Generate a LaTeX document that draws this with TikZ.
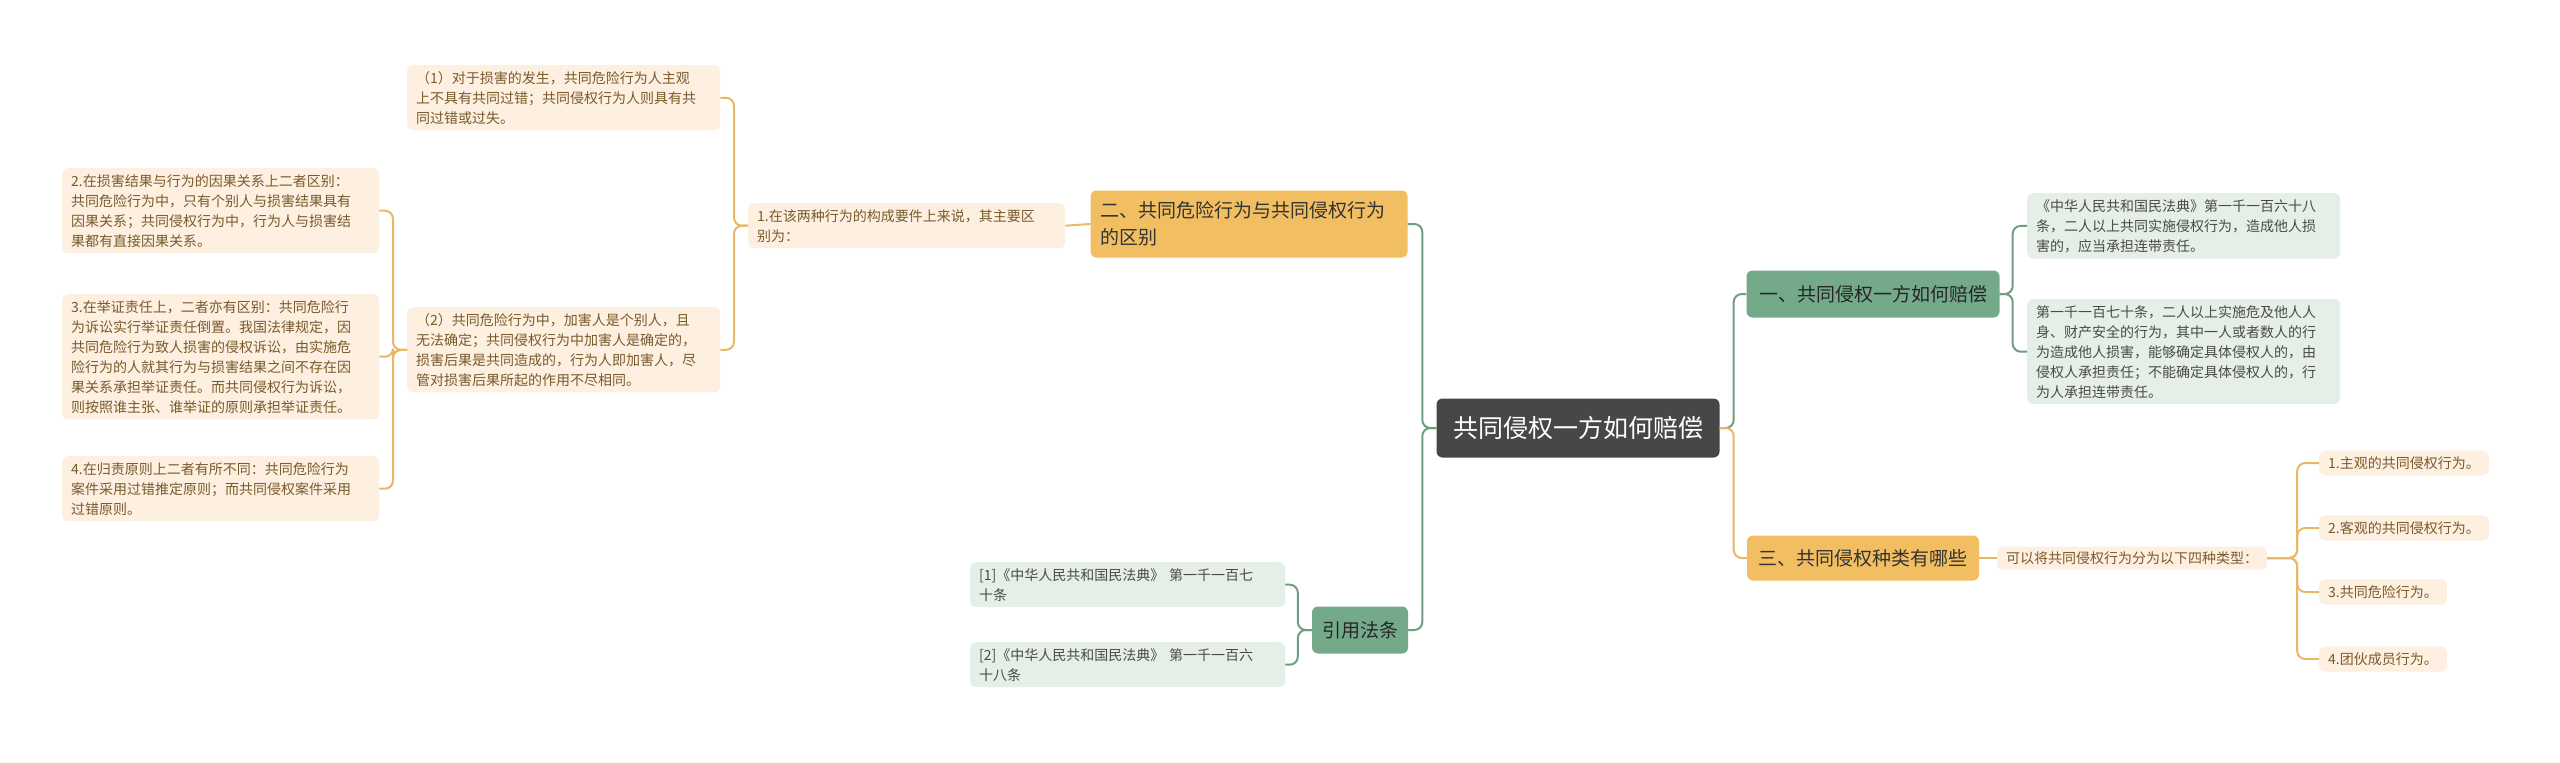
\documentclass[tikz,border=0pt]{standalone}
\usepackage{fontspec}
\setmainfont{Noto Sans CJK SC}
\definecolor{oline}{HTML}{E9B866}
\definecolor{gline}{HTML}{6F9E80}
\definecolor{ofill}{HTML}{FDF0E1}
\definecolor{gfill}{HTML}{E5EFE8}
\definecolor{obr}{HTML}{F2BE62}
\definecolor{gbr}{HTML}{74AA8A}
\definecolor{otext}{HTML}{7A5A2C}
\definecolor{gtext}{HTML}{4A4A4A}
\tikzset{
 leafo/.style={fill=ofill,rounded corners=6pt,text=otext,align=left,inner xsep=9pt,inner ysep=6pt,font=\fontsize{14}{20}\selectfont,anchor=north west},
 leafg/.style={fill=gfill,rounded corners=6pt,text=gtext,align=left,inner xsep=9pt,inner ysep=6pt,font=\fontsize{14}{20}\selectfont,anchor=north west},
 bro/.style={fill=obr,rounded corners=6pt,text=black!80,align=left,inner xsep=10pt,font=\fontsize{19}{27}\selectfont},
 brg/.style={fill=gbr,rounded corners=6pt,text=black!85,align=left,inner xsep=10pt,font=\fontsize{19}{27}\selectfont},
 lo/.style={draw=oline,line width=2pt,rounded corners=8pt},
 lg/.style={draw=gline,line width=2pt,rounded corners=8pt},
}
\begin{document}
\begin{tikzpicture}[x=1pt,y=-1pt]
\useasboundingbox[fill=white] (0,0) rectangle (2560,763);
% center
\node[fill=black!72,rounded corners=6pt,text=white,font=\fontsize{25}{30}\selectfont,minimum width=283,minimum height=59] (c) at (1578,428) {共同侵权一方如何赔偿};
% left branch
\node[bro,text width=297,minimum height=67] (b2) at (1249,224) {二、共同危险行为与共同侵权行为\\的区别};
\node[leafo,text width=299] (k1) at (748,203) {1.在该两种行为的构成要件上来说，其主要区\\别为：};
\node[leafo,text width=295] (p1) at (407,65) {（1）对于损害的发生，共同危险行为人主观\\上不具有共同过错；共同侵权行为人则具有共\\同过错或过失。};
\node[leafo,text width=295] (p2) at (407,307) {（2）共同危险行为中，加害人是个别人，且\\无法确定；共同侵权行为中加害人是确定的，\\损害后果是共同造成的，行为人即加害人，尽\\管对损害后果所起的作用不尽相同。};
\node[leafo,text width=299] (q2) at (62,168) {2.在损害结果与行为的因果关系上二者区别：\\共同危险行为中，只有个别人与损害结果具有\\因果关系；共同侵权行为中，行为人与损害结\\果都有直接因果关系。};
\node[leafo,text width=299] (q3) at (62,294) {3.在举证责任上，二者亦有区别：共同危险行\\为诉讼实行举证责任倒置。我国法律规定，因\\共同危险行为致人损害的侵权诉讼，由实施危\\险行为的人就其行为与损害结果之间不存在因\\果关系承担举证责任。而共同侵权行为诉讼，\\则按照谁主张、谁举证的原则承担举证责任。};
\node[leafo,text width=299] (q4) at (62,456) {4.在归责原则上二者有所不同：共同危险行为\\案件采用过错推定原则；而共同侵权案件采用\\过错原则。};
% citations
\node[brg,minimum width=95,minimum height=47,align=center] (yf) at (1360,630) {引用法条};
\node[leafg,text width=297] (r1) at (970,562) {[1]《中华人民共和国民法典》 第一千一百七\\十条};
\node[leafg,text width=297] (r2) at (970,642) {[2]《中华人民共和国民法典》 第一千一百六\\十八条};
% right
\node[brg,minimum width=253,minimum height=47,align=center] (b1) at (1873,294) {一、共同侵权一方如何赔偿};
\node[leafg,text width=295] (g1) at (2027,193) {《中华人民共和国民法典》第一千一百六十八\\条，二人以上共同实施侵权行为，造成他人损\\害的，应当承担连带责任。};
\node[leafg,text width=295] (g2) at (2027,299) {第一千一百七十条，二人以上实施危及他人人\\身、财产安全的行为，其中一人或者数人的行\\为造成他人损害，能够确定具体侵权人的，由\\侵权人承担责任；不能确定具体侵权人的，行\\为人承担连带责任。};
\node[bro,minimum width=232,minimum height=45,align=center] (b3) at (1863,558) {三、共同侵权种类有哪些};
\node[leafo,anchor=center,inner ysep=5pt] (t0) at (2132,558) {可以将共同侵权行为分为以下四种类型：};
\node[leafo,anchor=west] (t1) at (2319,463) {1.主观的共同侵权行为。};
\node[leafo,anchor=west] (t2) at (2319,528) {2.客观的共同侵权行为。};
\node[leafo,anchor=west] (t3) at (2319,592) {3.共同危险行为。};
\node[leafo,anchor=west] (t4) at (2319,659) {4.团伙成员行为。};
% connectors
\foreach \t in {b2,yf} \draw[lg] (c.west) -- ++(-14,0) |- (\t.east);
\draw[lo] (b2.west) -- (k1.east);
\foreach \t in {p1,p2} \draw[lo] (k1.west) -- ++(-14,0) |- (\t.east);
\foreach \t in {q2,q3,q4} \draw[lo] (p2.west) -- ++(-14,0) |- (\t.east);
\foreach \t in {r1,r2} \draw[lg] (yf.west) -- ++(-14,0) |- (\t.east);
\draw[lg] (c.east) -- ++(14,0) |- (b1.west);
\draw[lo] (c.east) -- ++(14,0) |- (b3.west);
\foreach \t in {g1,g2} \draw[lg] (b1.east) -- ++(13,0) |- (\t.west);
\draw[lo] (b3.east) -- (t0.west);
\foreach \t in {t1,t2,t3,t4} \draw[lo] (t0.east) -- ++(30,0) |- (\t.west);
\end{tikzpicture}
\end{document}
